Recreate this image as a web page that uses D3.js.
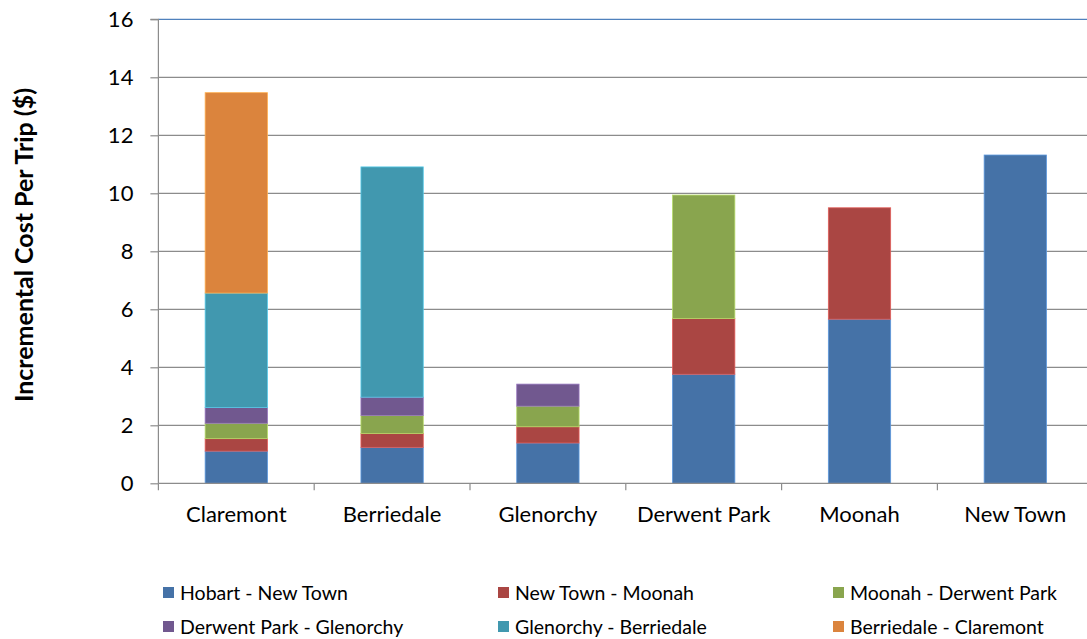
<!DOCTYPE html>
<html><head><meta charset="utf-8">
<script src="https://cdn.jsdelivr.net/npm/d3@7"></script>
<style>body{margin:0;background:#fff;} svg{display:block;font-family:Lato,"Open Sans",sans-serif;} svg text{font-family:Lato,"Open Sans",sans-serif;}</style>
</head><body>
<svg id="c" width="1087" height="639"></svg>
<script>
const categories = ["Claremont","Berriedale","Glenorchy","Derwent Park","Moonah","New Town"];
const seriesNames = ["Hobart - New Town","New Town - Moonah","Moonah - Derwent Park","Derwent Park - Glenorchy","Glenorchy - Berriedale","Berriedale - Claremont"];
const hobartNewTown     = [1.11, 1.24, 1.39, 3.76, 5.66, 11.32];
const newTownMoonah     = [0.43, 0.48, 0.56, 1.92, 3.84, 0];
const moonahDerwentPark = [0.53, 0.62, 0.71, 4.26, 0, 0];
const derwentGlenorchy  = [0.54, 0.63, 0.76, 0, 0, 0];
const glenorchyBerriedale = [3.95, 7.94, 0, 0, 0, 0];
const berriedaleClaremont = [6.91, 0, 0, 0, 0, 0];
const yTicks = [0,2,4,6,8,10,12,14,16];
const colors = ["#4572A7","#AA4643","#89A54E","#71588F","#4198AF","#DB843D"];

(function(){
const seriesValues = [hobartNewTown,newTownMoonah,moonahDerwentPark,derwentGlenorchy,glenorchyBerriedale,berriedaleClaremont];
const rows = categories.map((c,i)=>{const r={cat:c}; seriesNames.forEach((s,j)=>r[s]=seriesValues[j][i]); return r;});
const stacked = d3.stack().keys(seriesNames)(rows);

const svg = d3.select("#c");
const pL = 158.4, pT = 19.3, pB = 483.3, pR = 158.4 + 6*155.8;
const x = d3.scaleBand().domain(categories).range([pL,pR]).paddingInner(0.6).paddingOuter(0.3);
const xb = d3.scaleBand().domain(categories).range([pL,pR]).padding(0);
const y = d3.scaleLinear().domain([0,16]).range([pB,pT]);

svg.append("g").selectAll("line").data(yTicks.filter(t=>t>0)).join("line")
  .attr("x1",pL).attr("x2",1087).attr("y1",d=>y(d)).attr("y2",d=>y(d))
  .attr("stroke",d=>d===16?"#4F81BD":"#8c8c8c").attr("stroke-width",1.2);

const g = svg.append("g");
stacked.forEach((s,j)=>{
  g.append("g").selectAll("rect").data(s.filter(d=>d[1]-d[0]>0)).join("rect")
    .attr("x",d=>x(d.data.cat)).attr("width",x.bandwidth())
    .attr("y",d=>y(d[1])).attr("height",d=>y(d[0])-y(d[1]))
    .attr("fill",colors[j]).attr("stroke",d3.color(colors[j]).brighter(0.8)).attr("stroke-width",0.8);
});

const ya = d3.axisLeft(y).tickValues(yTicks).tickSize(8).tickPadding(8).tickFormat(d3.format("d"));
const yg = svg.append("g").attr("transform",`translate(${pL},0)`).call(ya).attr("font-family",null);
yg.select(".domain").attr("stroke","#8c8c8c").attr("stroke-width",1.2).attr("d",`M-8,${pT}H0V${pB}`);
yg.selectAll(".tick line").attr("stroke","#8c8c8c").attr("stroke-width",1.2);
yg.selectAll(".tick text").attr("font-size",22).attr("fill","#000").attr("x",-25).attr("dy","0.34em");

svg.append("line").attr("x1",pL).attr("x2",1087).attr("y1",pB).attr("y2",pB).attr("stroke","#8c8c8c").attr("stroke-width",1.2);
const bounds = categories.map(c=>xb(c));
svg.append("g").selectAll("line").data(bounds).join("line")
  .attr("x1",d=>d).attr("x2",d=>d).attr("y1",pB).attr("y2",pB+7).attr("stroke","#8c8c8c").attr("stroke-width",1.2);
svg.append("g").selectAll("text").data(categories).join("text")
  .attr("x",d=>xb(d)+xb.bandwidth()/2).attr("y",522).attr("text-anchor","middle")
  .attr("font-size",22).attr("fill","#000").text(d=>d);

svg.append("text").attr("transform","translate(33,245) rotate(-90)").attr("text-anchor","middle")
  .attr("font-size",25).attr("font-weight","bold").attr("fill","#000").text("Incremental Cost Per Trip ($)");

const legX = [163,498,833], legY = [593,627];
const leg = svg.append("g").selectAll("g").data(seriesNames).join("g")
  .attr("transform",(d,i)=>`translate(${legX[i%3]},${legY[Math.floor(i/3)]})`);
leg.append("rect").attr("x",0).attr("y",-6).attr("width",11).attr("height",11).attr("fill",(d,i)=>colors[i]);
leg.append("text").attr("x",17).attr("y",7).attr("font-size",19.5).attr("fill","#000").text(d=>d);
})();
</script>
</body></html>
